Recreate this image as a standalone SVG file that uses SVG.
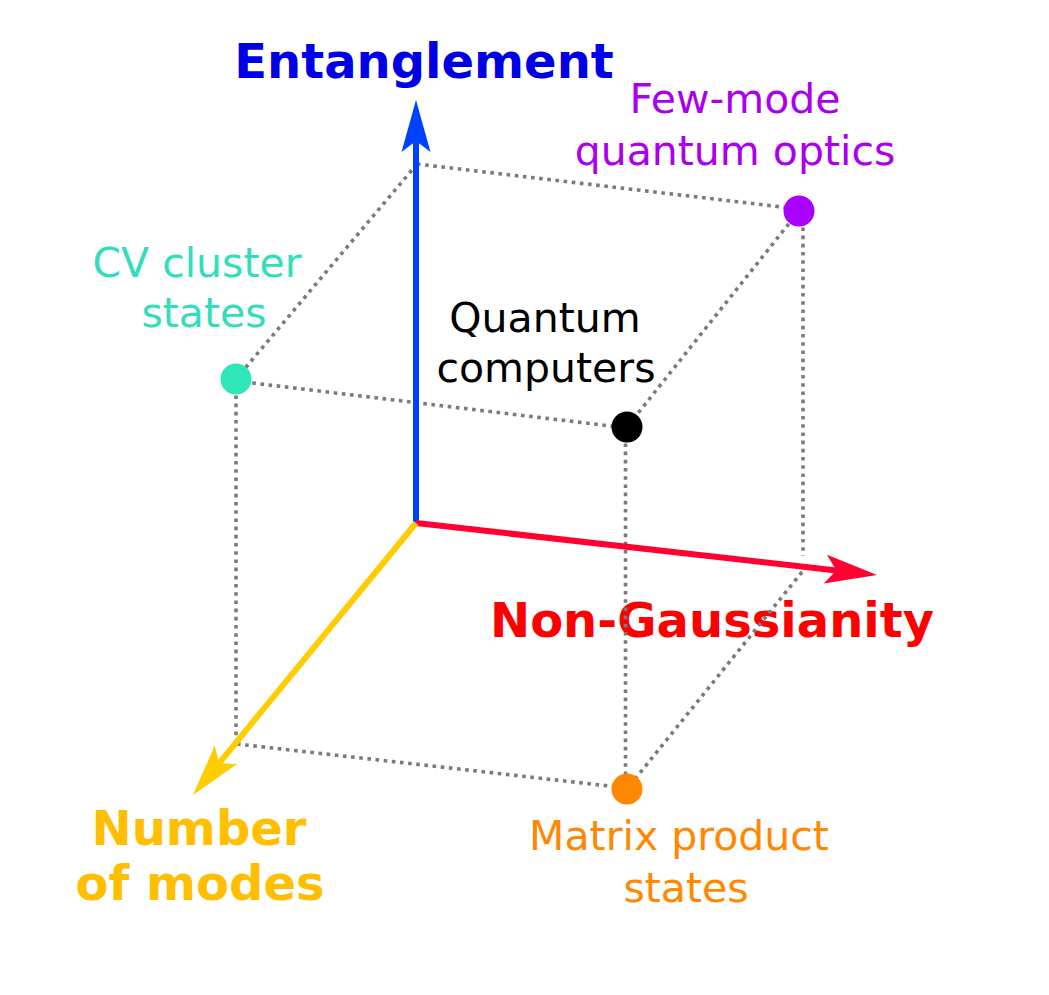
<svg xmlns="http://www.w3.org/2000/svg" width="1049" height="995" viewBox="0 0 1049 995">
<style>
.ax{font-family:"DejaVu Sans",Verdana,sans-serif;font-weight:bold;font-size:48px;text-anchor:middle}
.lb{font-family:"DejaVu Sans",Verdana,sans-serif;font-size:41px;text-anchor:middle}
.dot{fill:none;stroke:#7a7a7a;stroke-width:3.6;stroke-dasharray:3.6 4.6}
.axis{fill:none;stroke-width:6}
</style>
<defs>
<marker id="hb" markerUnits="userSpaceOnUse" orient="auto" refX="0" refY="0" markerWidth="60" markerHeight="40" style="overflow:visible"><path d="M41,0 L-11,-14.5 L0,0 L-11,14.5 Z" fill="#0040ff"/></marker>
<marker id="hr" markerUnits="userSpaceOnUse" orient="auto" refX="0" refY="0" markerWidth="60" markerHeight="40" style="overflow:visible"><path d="M41,0 L-11,-14.5 L0,0 L-11,14.5 Z" fill="#ff0030"/></marker>
<marker id="hy" markerUnits="userSpaceOnUse" orient="auto" refX="0" refY="0" markerWidth="60" markerHeight="40" style="overflow:visible"><path d="M41,0 L-11,-14.5 L0,0 L-11,14.5 Z" fill="#ffcc00"/></marker>
</defs>
<rect width="1049" height="995" fill="#ffffff"/>
<g id="labels">
<text class="ax" x="424" y="78" fill="#0000e6">Entanglement</text>
<text class="ax" x="712" y="637" fill="#ff0000">Non-Gaussianity</text>
<text class="ax" fill="#ffbf00"><tspan x="199" y="845">Number</tspan><tspan x="200" y="900">of modes</tspan></text>
</g>
<g id="node-fewmode"><text class="lb" fill="#aa00ee"><tspan x="735" y="113">Few-mode</tspan><tspan x="735" y="165">quantum optics</tspan></text></g>
<g id="node-cv"><text class="lb" fill="#33ddbb"><tspan x="197" y="277">CV cluster</tspan><tspan x="204" y="327">states</tspan></text></g>
<g id="node-qc"><text class="lb" fill="#000000"><tspan x="545" y="332">Quantum</tspan><tspan x="546" y="382">computers</tspan></text></g>
<g id="node-mps"><text class="lb" fill="#ff8800"><tspan x="679" y="850">Matrix product</tspan><tspan x="686" y="902">states</tspan></text></g>
<g id="connectors">
<path class="dot" d="M417,164 L799,209"/>
<path class="dot" d="M417,164 L236,379"/>
<path class="dot" d="M236,381 L627,428"/>
<path class="dot" d="M799,211 L627,427"/>
<path class="dot" d="M803,211 L803,556"/>
<path class="dot" d="M802,572 L627,789"/>
<path class="dot" d="M625.5,427 L625.5,789"/>
<path class="dot" d="M236,379 L236,744"/>
<path class="dot" d="M237,744 L627,788"/>
<path class="axis" stroke="#0040ff" d="M416,526 L416,141" marker-end="url(#hb)"/>
<path class="axis" stroke="#ff0030" d="M416,523 L836.3,570.4" marker-end="url(#hr)"/>
<path class="axis" stroke="#ffcc00" d="M416,523 L219,763.3" marker-end="url(#hy)"/>
</g>
<g id="dots">
<circle cx="799" cy="211" r="15.5" fill="#aa00ff"/>
<circle cx="236" cy="379" r="15.5" fill="#2ee6b8"/>
<circle cx="627" cy="427" r="15.5" fill="#000000"/>
<circle cx="627" cy="789" r="15.5" fill="#ff8800"/>
</g>
</svg>
